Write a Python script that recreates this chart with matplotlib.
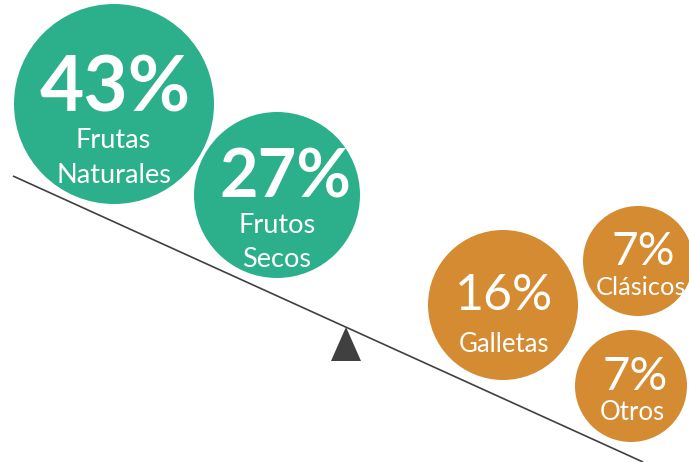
import matplotlib
matplotlib.use("Agg")
import matplotlib.pyplot as plt
from matplotlib.patches import Circle, Polygon

# ---- data ----
values = [43, 27, 16, 7, 7]
labels = ["Frutas\nNaturales", "Frutos\nSecos", "Galletas", "Clásicos", "Otros"]
groups = ["saludable", "saludable", "dulce", "dulce", "dulce"]

# ---- layout / style (pixel space) ----
group_colors = {"saludable": "#2BB08B", "dulce": "#D58B31"}
centers = [(114, 104), (277, 195), (503, 305), (638, 261), (631, 386)]
radii = [100, 83, 75, 55, 56]
pct_baseline = [112, 197, 310, 265, 390]
pct_x = [115, 285, 504, 643, 635]
pct_size = [55, 48, 36, 33, 34]
pct_bold = [True, True, False, False, False]
lab_baselines = [[148, 183], [233, 267], [352], [295], [420]]
lab_x = [113.5, 277, 504, 641, 632]
lab_size = [19.5, 19.5, 18.5, 18.3, 18.5]
FONT = "Lato"

W, H = 689, 462
fig = plt.figure(figsize=(W / 100, H / 100), dpi=100)
ax = fig.add_axes([0, 0, 1, 1])
ax.set_xlim(0, W)
ax.set_ylim(H, 0)
ax.axis("off")

# beam and fulcrum
ax.plot([13, 643], [176, 462], color="#404040", lw=1.2, zorder=1, solid_capstyle="butt")
ax.add_patch(Polygon([(346, 327), (331, 361), (361, 361)], closed=True,
                     facecolor="#404040", edgecolor="none", zorder=1))

for i, v in enumerate(values):
    col = group_colors[groups[i]]
    ax.add_patch(Circle(centers[i], radii[i], facecolor=col, edgecolor="none", zorder=2))
    ax.text(pct_x[i], pct_baseline[i], f"{v}%", ha="center", va="baseline",
            color="white", fontsize=pct_size[i], family=FONT,
            fontweight="bold" if pct_bold[i] else "normal", zorder=3)
    for line, yb in zip(labels[i].split("\n"), lab_baselines[i]):
        ax.text(lab_x[i], yb, line, ha="center", va="baseline", color="white",
                fontsize=lab_size[i], family=FONT, zorder=3)

fig.savefig("out.png", dpi=100, facecolor="white")
